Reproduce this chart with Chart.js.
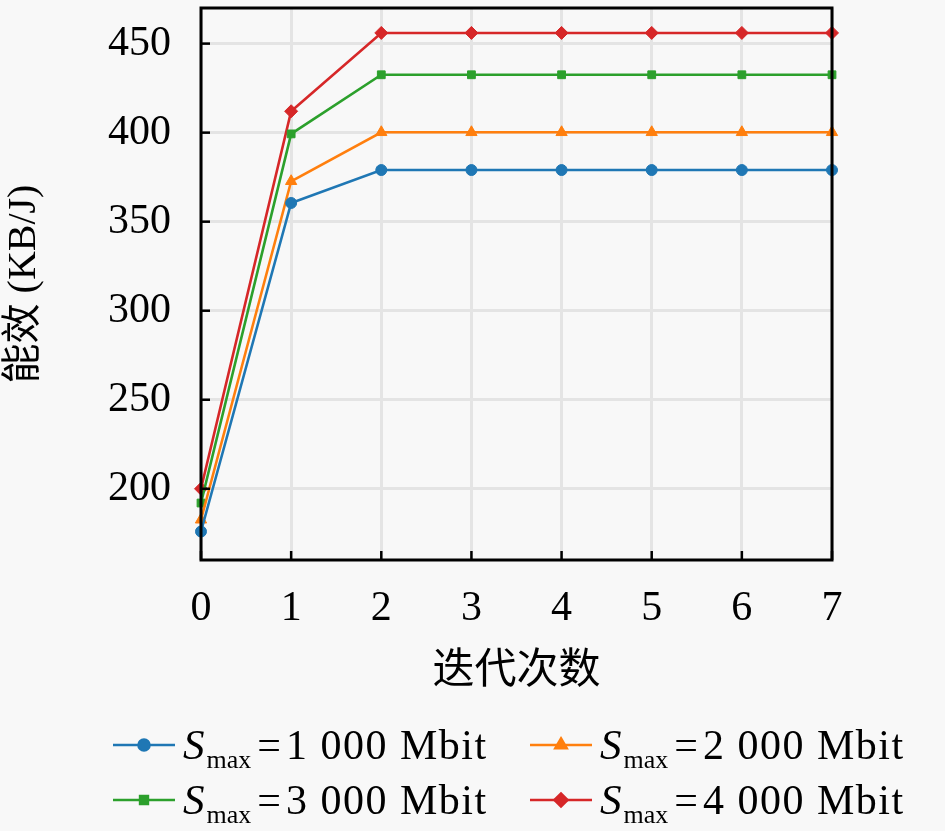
<!DOCTYPE html>
<html>
<head>
<meta charset="utf-8">
<script src="https://cdn.jsdelivr.net/npm/chart.js@4/dist/chart.umd.min.js"></script>
<style>
  html, body { margin: 0; padding: 0; background: #f8f8f8; }
  #wrap { width: 945px; height: 831px; }
</style>
</head>
<body>
<div id="wrap"><canvas id="energyChart" width="945" height="831"></canvas></div>
<script>
// iterations and energy efficiency (KB/J)
var iterations = ["0", "1", "2", "3", "4", "5", "6", "7"];
var smax1000 = [176, 360.5, 379, 379, 379, 379, 379, 379];
var smax2000 = [182.6, 372.7, 400.2, 400.2, 400.2, 400.2, 400.2, 400.2];
var smax3000 = [192, 399.3, 432.5, 432.5, 432.5, 432.5, 432.5, 432.5];
var smax4000 = [200, 412, 456, 456, 456, 456, 456, 456];
var seriesNames = ["1 000 Mbit", "2 000 Mbit", "3 000 Mbit", "4 000 Mbit"];
var yTicks = [200, 250, 300, 350, 400, 450];

var serif = "'Liberation Serif', 'Noto Sans CJK SC', serif";
var cjk = "'Liberation Serif', 'Noto Sans CJK SC', sans-serif";

function series(values, name, color, style, radius) {
  return {
    label: name,
    data: values,
    borderColor: color,
    backgroundColor: color,
    borderWidth: 2.6,
    pointStyle: style,
    pointRadius: radius,
    pointHoverRadius: radius,
    pointBorderWidth: 1,
    clip: false,
    tension: 0
  };
}

// black frame + inward ticks on left and bottom
var framePlugin = {
  id: 'frame',
  afterDatasetsDraw: function (chart) {
    var ctx = chart.ctx, a = chart.chartArea;
    ctx.save();
    ctx.strokeStyle = '#000';
    ctx.lineWidth = 3;
    ctx.strokeRect(a.left, a.top, a.right - a.left, a.bottom - a.top);
    ctx.lineWidth = 2.5;
    chart.scales.x.ticks.forEach(function (t, i) {
      var px = chart.scales.x.getPixelForTick(i);
      ctx.beginPath(); ctx.moveTo(px, a.bottom); ctx.lineTo(px, a.bottom - 9); ctx.stroke();
    });
    chart.scales.y.ticks.forEach(function (t) {
      var py = chart.scales.y.getPixelForValue(t.value);
      ctx.beginPath(); ctx.moveTo(a.left, py); ctx.lineTo(a.left + 9, py); ctx.stroke();
    });
    ctx.restore();
  }
};

// two-column legend with S_max subscript
var legendPlugin = {
  id: 'smaxLegend',
  afterDraw: function (chart) {
    var ctx = chart.ctx;
    var spots = [[113, 745], [530, 745], [113, 800], [530, 800]];
    chart.data.datasets.forEach(function (ds, i) {
      var x = spots[i][0], y = spots[i][1];
      ctx.save();
      ctx.strokeStyle = ds.borderColor;
      ctx.lineWidth = 2.6;
      ctx.beginPath(); ctx.moveTo(x, y); ctx.lineTo(x + 62, y); ctx.stroke();
      ctx.fillStyle = ds.backgroundColor;
      Chart.helpers.drawPoint(ctx, {
        pointStyle: ds.pointStyle, radius: ds.pointRadius, rotation: 0, borderWidth: 1
      }, x + 31, y);
      ctx.fill();
      ctx.fillStyle = '#000';
      ctx.textBaseline = 'alphabetic';
      var tx = x + 70, base = y + 14;
      ctx.font = 'italic 43px ' + serif;
      ctx.fillText('S', tx, base);
      tx += ctx.measureText('S').width + 2;
      ctx.font = '26px ' + serif;
      ctx.fillText('max', tx, base + 9);
      tx += ctx.measureText('max').width + 6;
      ctx.font = '42px ' + serif;
      ctx.fillText('=', tx, base);
      tx += ctx.measureText('=').width + 5;
      ctx.letterSpacing = '1.5px';
      ctx.fillText(ds.label, tx, base);
      ctx.restore();
    });
  }
};

new Chart(document.getElementById('energyChart'), {
  type: 'line',
  data: {
    labels: iterations,
    datasets: [
      series(smax1000, seriesNames[0], '#1f77b4', 'circle', 5.5),
      series(smax2000, seriesNames[1], '#ff7f0e', 'triangle', 6.5),
      series(smax3000, seriesNames[2], '#2ca02c', 'rect', 5.5),
      series(smax4000, seriesNames[3], '#d62728', 'rectRot', 6.5)
    ]
  },
  options: {
    responsive: false,
    animation: false,
    layout: { padding: { top: 8, right: 113, bottom: 130, left: 0 } },
    plugins: { legend: { display: false }, tooltip: { enabled: false } },
    scales: {
      x: {
        offset: false,
        grid: { color: '#e4e4e4', lineWidth: 3, drawTicks: false },
        border: { display: false },
        ticks: { color: '#000', padding: 24, font: { family: serif, size: 42 } },
        title: {
          display: true, text: '迭代次数', color: '#000',
          font: { family: cjk, size: 42 }, padding: { top: 0, bottom: 4 }
        },
        afterFit: function (scale) {
          scale.height = 141;
          scale.paddingLeft = 0; scale.paddingRight = 0;
        }
      },
      y: {
        min: 160, max: 470,
        afterBuildTicks: function (scale) {
          scale.ticks = yTicks.map(function (v) { return { value: v }; });
        },
        grid: { color: '#e4e4e4', lineWidth: 3, drawTicks: false },
        border: { display: false },
        ticks: { color: '#000', padding: 30, font: { family: serif, size: 42 } },
        title: {
          display: true, text: '能效 (KB/J)', color: '#000',
          font: { family: cjk, size: 40 }, padding: { top: 0, bottom: 28 }
        },
        afterFit: function (scale) {
          scale.width = 201;
          scale.paddingTop = 0; scale.paddingBottom = 0;
        }
      }
    }
  },
  plugins: [framePlugin, legendPlugin]
});
</script>
</body>
</html>
